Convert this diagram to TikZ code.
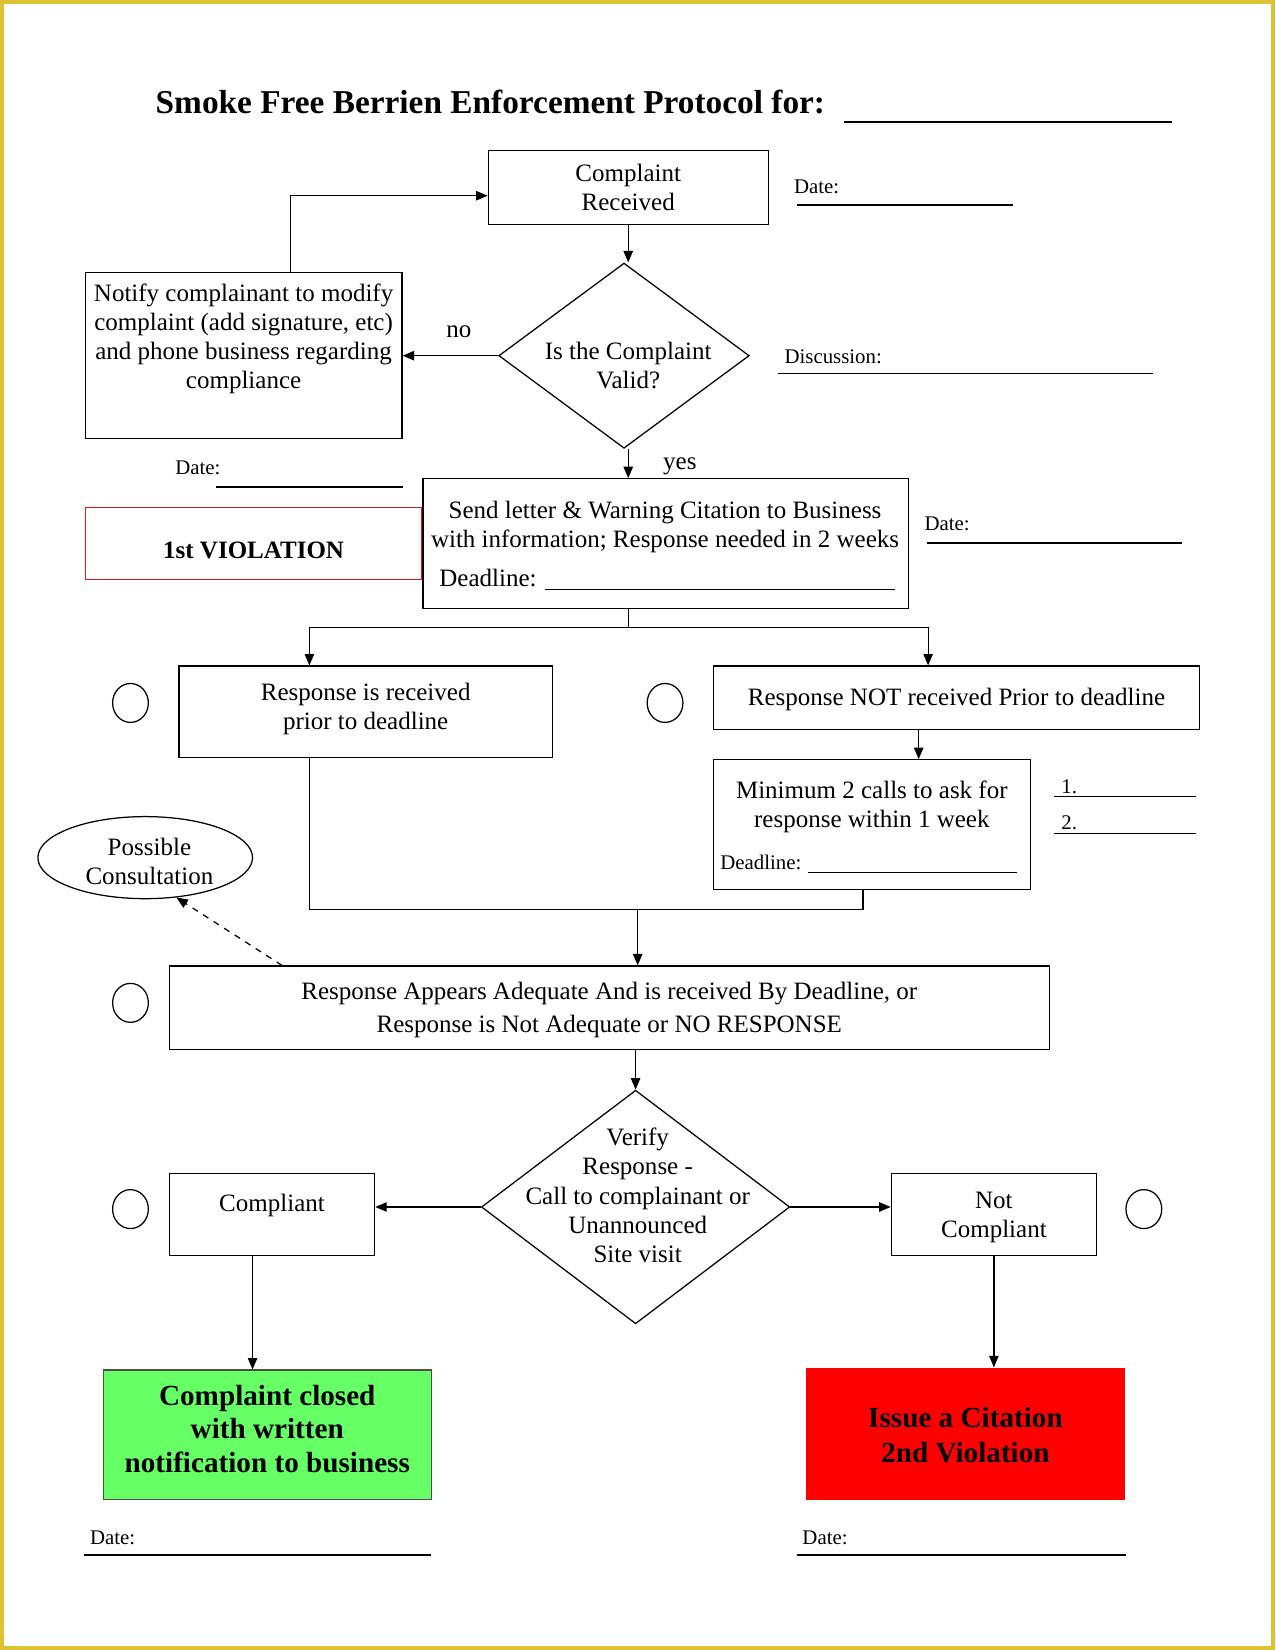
\documentclass[tikz,border=0pt]{standalone}
\usepackage{fontspec}
\setmainfont{Liberation Serif}
\usetikzlibrary{arrows.meta,positioning,shapes.geometric}

\def\pxu{0.505pt}
\definecolor{pageframe}{RGB}{221,194,52}
\definecolor{closedgreen}{RGB}{102,255,102}
\definecolor{citered}{RGB}{255,0,0}
\definecolor{violred}{RGB}{214,24,24}

\tikzset{
  box/.style 2 args={draw, rectangle, minimum width=#1*\pxu, minimum height=#2*\pxu, inner sep=0pt},
  choice/.style 2 args={draw, diamond, minimum width=#1*\pxu, minimum height=#2*\pxu, inner sep=0pt},
  txt/.style={align=center, inner sep=0pt},
  note/.style={font=\fontsize{10}{12}\selectfont, inner sep=0pt, anchor=west},
  tickcirc/.style={draw, ellipse, minimum width=34*\pxu, minimum height=37*\pxu, inner sep=0pt},
  formline/.style={line width=0.8pt},
  arr/.style={->},
}

\begin{document}
\begin{tikzpicture}[x=0.505pt, y=-0.505pt, >={Triangle[length=5.5pt,width=4.5pt]},
  line width=0.6pt, font=\fontsize{12}{14}\selectfont]
  \useasboundingbox (0,0) rectangle (1212,1568);
  \draw[pageframe, line width=2pt] (2,2) rectangle (1210,1566);

  % title
  \node[txt, font=\bfseries\fontsize{16}{19}\selectfont] (title) at (466,97) {Smoke Free Berrien Enforcement Protocol for:};
  \draw[formline] (802,116) -- (1114,116);

  % first part
  \node[box={266}{70}] (received) at (597,178) {};
  \node[txt] (received-txt) at (597,178) {Complaint\\Received};
  \node[choice={238}{176}] (valid) at (593,338) {};
  \node[txt] (valid-txt) at (597,347) {Is the Complaint\\Valid?};
  \node[box={301}{158}] (notify) at (231.5,338) {};
  \node[txt] (notify-txt) at (231.5,322) {Notify complainant to modify\\complaint (add signature, etc)\\and phone business regarding\\compliance};
  \node[box={320}{69}, draw=violred] (violation) at (241,516.5) {};
  \node[txt, font=\bfseries\fontsize{12}{14}\selectfont] (violation-txt) at (241,523) {1st VIOLATION};
  \node[box={461}{123}] (letter) at (632.5,516.5) {};
  \node[txt] (letter-txt) at (632,501) {Send letter \& Warning Citation to Business\\with information; Response needed in 2 weeks};
  \node[txt, anchor=west] (letter-dl) at (417,551) {Deadline: \rule[-1.5pt]{168pt}{0.4pt}};

  % responses
  \node[box={355}{87}] (ontime) at (347.5,676.5) {};
  \node[txt] (ontime-txt) at (347.5,674) {Response is received\\prior to deadline};
  \node[box={462}{60}] (late) at (909,663) {};
  \node[txt] (late-txt) at (909,665) {Response NOT received Prior to deadline};
  \node[box={301}{123}] (calls) at (828.5,783.5) {};
  \node[txt] (calls-txt) at (828.5,767) {Minimum 2 calls to ask for\\response within 1 week};
  \node[txt, anchor=west, font=\fontsize{10}{12}\selectfont] (calls-dl) at (684,821) {Deadline: \rule[-1.5pt]{100pt}{0.4pt}};
  \node[draw, ellipse, minimum width=204*\pxu, minimum height=78*\pxu, inner sep=0pt] (consult) at (138,815) {};
  \node[txt] (consult-txt) at (142,819) {Possible\\Consultation};
  \node[box={836}{79}] (adequate) at (579,957.5) {};
  \node[txt] (adequate-txt) at (579,960) {Response Appears Adequate And is received By Deadline, or\\[2pt]Response is Not Adequate or NO RESPONSE};

  % verification
  \node[choice={293}{222}] (verify) at (604,1147) {};
  \node[txt] (verify-txt) at (606,1136) {Verify\\Response -\\Call to complainant or\\Unannounced\\Site visit};
  \node[box={195}{78}] (compliant) at (258.5,1154) {};
  \node[txt] (compliant-txt) at (258.5,1146) {Compliant};
  \node[box={195}{78}] (notcompliant) at (944.5,1154) {};
  \node[txt] (notcompliant-txt) at (944.5,1157) {Not\\Compliant};
  \node[box={312}{123}, fill=closedgreen, draw=black!70] (closed) at (254,1363.5) {};
  \node[txt, font=\bfseries\fontsize{14}{16}\selectfont] (closed-txt) at (254,1358) {Complaint closed\\with written\\notification to business};
  \node[box={303}{125}, fill=citered, draw=none] (citation) at (917.5,1362.5) {};
  \node[txt, font=\bfseries\fontsize{14}{17}\selectfont] (citation-txt) at (917.5,1364) {Issue a Citation\\2nd Violation};

  % check circles
  \node[tickcirc] (circ-ontime) at (124,668) {};
  \node[tickcirc] (circ-late) at (632,668) {};
  \node[tickcirc] (circ-adequate) at (124,953) {};
  \node[tickcirc] (circ-compliant) at (124,1149) {};
  \node[tickcirc] (circ-notcompliant) at (1087,1149) {};

  % dates and form lines
  \node[note] (date-received) at (754,178) {Date:};
  \draw[formline] (757,195) -- (963,195);
  \node[note] (discussion) at (745,339) {Discussion:};
  \draw[formline] (739,355) -- (1096,355);
  \node[note] (date-notify) at (166,445) {Date:};
  \draw[formline] (205,463) -- (383,463);
  \node[note] (date-letter) at (878,498) {Date:};
  \draw[formline] (881,516) -- (1123,516);
  \node[note] (call-one) at (1008,748) {1.};
  \draw[formline] (1002,757) -- (1137,757);
  \node[note] (call-two) at (1008,782) {2.};
  \draw[formline] (1002,792) -- (1137,792);
  \node[note] (date-closed) at (85,1461) {Date:};
  \draw[formline] (80,1478) -- (410,1478);
  \node[note] (date-citation) at (762,1461) {Date:};
  \draw[formline] (757,1478) -- (1070,1478);

  % connectors
  \coordinate (fork) at (597,596);
  \coordinate (merge) at (606,864);
  \draw[arr] (received.south) -- (received.south |- valid.north);
  \draw[arr] (valid.west) -- node[above=10*\pxu, xshift=8*\pxu] {no} (notify.east);
  \draw[arr] ([xshift=44.5*\pxu]notify.north) |- ([yshift=-8*\pxu]received.west);
  \draw[arr] ([xshift=4*\pxu]valid.south) coordinate (v1) -- node[right=26*\pxu, pos=0.6] {yes} (v1 |- letter.north);
  \draw (letter.south -| fork) -- (fork);
  \draw[arr] (fork) -| ([xshift=-53.5*\pxu]ontime.north);
  \draw[arr] (fork) -| ([xshift=-27*\pxu]late.north);
  \draw[arr] ([xshift=-36*\pxu]late.south) coordinate (l1) -- (l1 |- calls.north);
  \draw ([xshift=-53.5*\pxu]ontime.south) |- (merge) -| ([xshift=-8.5*\pxu]calls.south);
  \draw[arr] (merge) -- (merge |- adequate.north);
  \draw[arr, dashed] ([xshift=-311*\pxu]adequate.north) -- (consult.-52);
  \draw[arr] (verify.north |- adequate.south) -- (verify.north);
  \draw[arr] (verify.west) -- (verify.west -| compliant.east);
  \draw[arr] (verify.east) -- (verify.east -| notcompliant.west);
  \draw[arr] ([xshift=-18.5*\pxu]compliant.south) coordinate (c1) -- (c1 |- closed.north);
  \draw[arr] (notcompliant.south) -- (notcompliant.south |- citation.north);
\end{tikzpicture}
\end{document}
